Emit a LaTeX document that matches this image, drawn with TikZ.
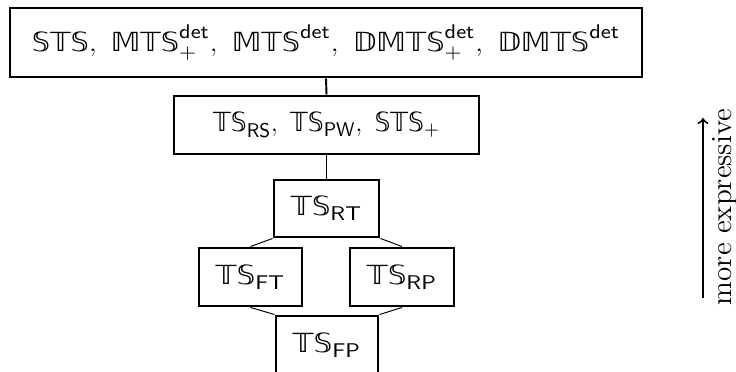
\documentclass[tikz,border=0pt]{standalone}
\usepackage{amsmath}
\usepackage{fontspec}
\newfontfamily\dsfam{DejaVu Sans}
\newcommand{\ds}[1]{\text{\dsfam #1}}
\newcommand{\sub}[1]{\text{\fontsize{9.2}{10}\selectfont\sffamily #1}}
\begin{document}
\begin{tikzpicture}[x=0.463pt,y=-0.463pt,
  box/.style={draw,line width=1.35pt,fill=white,inner sep=0pt,font=\sffamily\fontsize{12.2}{14}\selectfont},
  link/.style={line width=0.9pt},
  thinlink/.style={line width=0.45pt}]
\useasboundingbox (0,0) rectangle (736,372);
% boxes
\node[box,minimum width=632*0.463pt,minimum height=69*0.463pt] (top) at (326,42.5)
  {\scalebox{1.095}[1]{$\ds{𝕊𝕋𝕊},\ \ds{𝕄𝕋𝕊}^{\sub{det}}_{+},\ \ds{𝕄𝕋𝕊}^{\sub{det}},\ \ds{𝔻𝕄𝕋𝕊}^{\sub{det}}_{+},\ \ds{𝔻𝕄𝕋𝕊}^{\sub{det}}$}};
\node[box,minimum width=305*0.463pt,minimum height=58*0.463pt] (mid) at (326.5,125)
  {\scalebox{0.95}[1]{$\ds{𝕋𝕊}_{\sub{RS}},\ \ds{𝕋𝕊}_{\sub{PW}},\ \ds{𝕊𝕋𝕊}_{+}$}};
\node[box,minimum width=105*0.463pt,minimum height=57*0.463pt] (rt) at (326.5,208.5)
  {\scalebox{1.12}[1]{$\ds{𝕋𝕊}_{\sub{RT}}$}};
\node[box,minimum width=103*0.463pt,minimum height=58*0.463pt] (ft) at (250.5,277)
  {\scalebox{1.12}[1]{$\ds{𝕋𝕊}_{\sub{FT}}$}};
\node[box,minimum width=104*0.463pt,minimum height=58*0.463pt] (rp) at (402,277)
  {\scalebox{1.12}[1]{$\ds{𝕋𝕊}_{\sub{RP}}$}};
\node[box,minimum width=102*0.463pt,minimum height=58*0.463pt] (fp) at (327,345)
  {\scalebox{1.12}[1]{$\ds{𝕋𝕊}_{\sub{FP}}$}};
% connectors
\draw[link] (top.south) -- (mid.north);
\draw[link] (mid.south) -- (rt.north);
\draw[thinlink] (rt.south west) -- (ft.north);
\draw[thinlink] (rt.south east) -- (rp.north);
\draw[thinlink] (ft.south) -- (fp.north west);
\draw[thinlink] (rp.south) -- (fp.north east);
% arrow and label
\coordinate (ab) at (703,298);
\coordinate (at) at (703,118);
\draw[link,->] (ab) -- (at);
\node[rotate=90,anchor=base,inner sep=0pt,font=\fontsize{13.5}{16}\selectfont] (lbl) at (731,207) {more expressive};
\end{tikzpicture}
\end{document}
